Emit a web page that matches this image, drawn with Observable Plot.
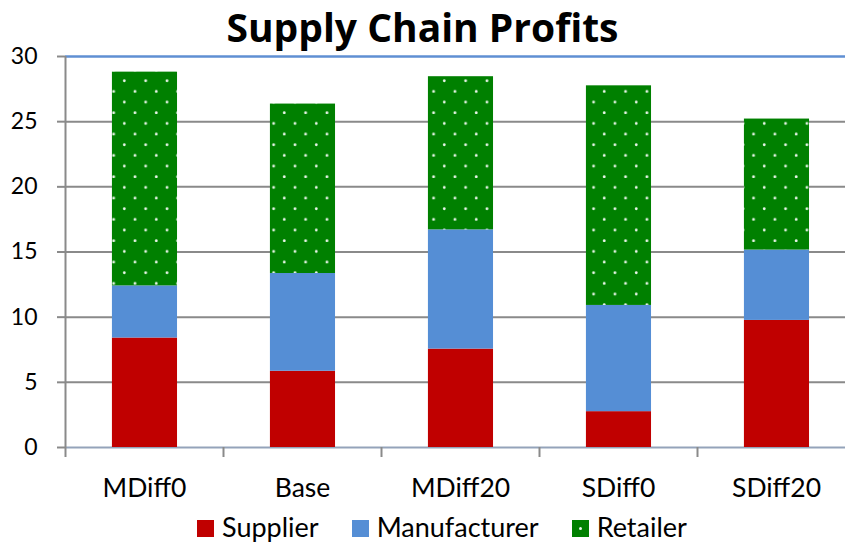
<!DOCTYPE html>
<html>
<head>
<meta charset="utf-8">
<script src="https://cdn.jsdelivr.net/npm/d3@7"></script>
<script src="https://cdn.jsdelivr.net/npm/@observablehq/plot@0.6"></script>
<style>
  html, body { margin: 0; padding: 0; background: #fff; }
  #wrap { width: 845px; height: 543px; overflow: hidden; font-family: Lato, "Open Sans", sans-serif; }
  #title { height: 54px; margin: 0; text-align: center; font-family: "Open Sans", sans-serif; font-size: 39px; font-weight: bold; line-height: 54px; color: #000; }
  #chart svg { display: block; overflow: visible; }
  #legend { height: 33px; display: flex; align-items: center; padding-left: 197px; font-size: 27px; color: #000; }
  .item { display: flex; align-items: center; margin-right: 33px; }
  .sw { width: 17px; height: 17px; margin-right: 8px; position: relative; top: 2px; }
</style>
</head>
<body>
<div id="wrap">
  <div id="title">Supply Chain Profits</div>
  <div id="chart"></div>
  <div id="legend"></div>
</div>
<script>
const categories = ["MDiff0", "Base", "MDiff20", "SDiff0", "SDiff20"];
const supplier = [8.4, 5.85, 7.55, 2.75, 9.75];
const manufacturer = [4.0, 7.5, 9.15, 8.15, 5.4];
const retailer = [16.4, 13.0, 11.75, 16.85, 10.05];
const seriesNames = ["Supplier", "Manufacturer", "Retailer"];
const seriesColors = ["#C00000", "#558ED5", "url(#dots)"];
const yTicks = [0, 5, 10, 15, 20, 25, 30];

const seriesValues = [supplier, manufacturer, retailer];
const rows = [];
categories.forEach((c, i) => {
  let base = 0;
  seriesValues.forEach((vals, s) => {
    rows.push({cat: c, i, series: seriesNames[s], y1: base, y2: base + vals[i]});
    base += vals[i];
  });
});

const chart = Plot.plot({
  width: 845,
  height: 456,
  marginTop: 2,
  marginBottom: 63,
  marginLeft: 65,
  marginRight: -10,
  style: {fontFamily: "Lato, 'Open Sans', sans-serif", background: "transparent", overflow: "visible"},
  x: {domain: [0, categories.length], axis: null},
  y: {domain: [0, 30], axis: null},
  color: {domain: seriesNames, range: seriesColors},
  marks: [
    Plot.gridY({ticks: yTicks.slice(1, -1), stroke: "#8a8a8a", strokeOpacity: 1, strokeWidth: 2}),
    Plot.ruleY([30], {stroke: "#5F8FD3", strokeWidth: 2.5}),
    Plot.ruleY([0], {stroke: "#94A3BA", strokeWidth: 2}),
    Plot.rectY(rows, {x1: d => d.i + 0.297, x2: d => d.i + 0.709, y1: "y1", y2: "y2", fill: "series"}),
    Plot.ruleX([0], {y1: 0, y2: 30, stroke: "#8a8a8a", strokeWidth: 2}),
    Plot.axisY({ticks: yTicks, tickSize: 8, tickPadding: 20, stroke: "#8a8a8a", strokeWidth: 2, fontSize: 23, fill: "#000", label: null, tickFormat: d => String(d)}),
    Plot.axisX({ticks: d3.range(categories.length + 1), tickSize: 10, tickFormat: () => "", stroke: "#8a8a8a", strokeWidth: 2, label: null}),
    Plot.axisX({ticks: categories.map((c, i) => i + 0.5), tickSize: 0, tickPadding: 31, tickFormat: v => categories[Math.floor(v)], fontSize: 26.5, fill: "#000", label: null})
  ]
});

const ns = "http://www.w3.org/2000/svg";
const defs = document.createElementNS(ns, "defs");
defs.innerHTML = `<pattern id="dots" patternUnits="userSpaceOnUse" width="21.33" height="21.33" patternTransform="translate(0,-4)">
  <rect width="21.33" height="21.33" fill="#008000"/>
  <circle cx="17.7" cy="9.4" r="1.4" fill="#e8f4e8"/>
  <circle cx="7.0" cy="20.0" r="1.4" fill="#e8f4e8"/>
</pattern>`;
chart.insertBefore(defs, chart.firstChild);
document.getElementById("chart").appendChild(chart);

const legend = document.getElementById("legend");
seriesNames.forEach((name, s) => {
  const item = document.createElement("div");
  item.className = "item";
  const sw = document.createElement("div");
  sw.className = "sw";
  if (s === 2) {
    sw.style.background = "#008000";
    const dot = document.createElement("div");
    dot.style.cssText = "position:absolute;left:7px;top:7px;width:3px;height:3px;border-radius:50%;background:#e8f4e8;";
    sw.appendChild(dot);
  } else {
    sw.style.background = seriesColors[s];
  }
  const label = document.createElement("span");
  label.textContent = name;
  item.appendChild(sw);
  item.appendChild(label);
  legend.appendChild(item);
});
</script>
</body>
</html>
